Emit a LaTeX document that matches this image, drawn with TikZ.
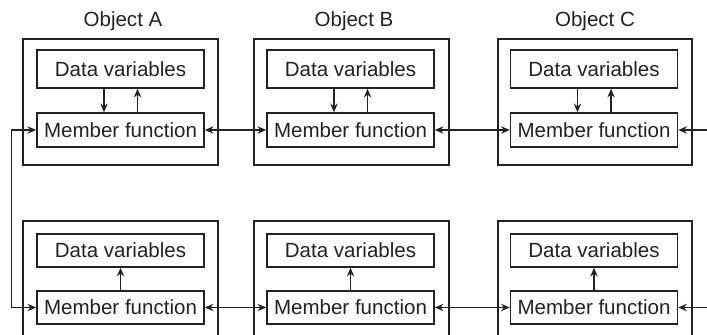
\documentclass[tikz,border=0pt]{standalone}
\usepackage{fontspec}
\setmainfont{Liberation Sans}
\usetikzlibrary{arrows.meta,fit}
\definecolor{ink}{HTML}{222222}
\tikzset{
  box/.style={draw=ink, line width=1.1pt, inner sep=0pt, text=ink, minimum width=125.25pt,
    font=\fontsize{15.4}{18}\selectfont},
  tallbox/.style={box, minimum height=28.5pt},
  midbox/.style={box, minimum height=25.5pt},
  lowbox/.style={box, minimum height=24.75pt},
  frame/.style={draw=ink, line width=1.2pt, inner sep=0pt},
  title/.style={text=ink, inner sep=0pt, font=\fontsize{15.4}{18}\selectfont},
  link/.style={draw=ink, line width=1.1pt, -{Stealth[length=6.5pt,width=5.5pt]}},
  dlink/.style={draw=ink, line width=1.1pt, {Stealth[length=6.5pt,width=5.5pt]}-{Stealth[length=6.5pt,width=5.5pt]}}
}
\begin{document}
\begin{tikzpicture}[x=0.75pt, y=-0.75pt]
\useasboundingbox (0,0) rectangle (707,335);
\clip (0,0) rectangle (707,335);
\fill[white] (0,0) rectangle (707,335);

% object titles
\node[title] (ta) at (123,21) {Object A};
\node[title] (tb) at (354,21) {Object B};
\node[title] (tc) at (595,21) {Object C};

% upper row of objects
\node[frame, fit={(23,39) (218,165)}] (oa1) {};
\node[frame, fit={(254,39) (449,165)}] (ob1) {};
\node[frame, fit={(498,39) (692,165)}] (oc1) {};
\node[tallbox] (da1) at (120.5,69) {Data variables};
\node[tallbox] (db1) at (350.5,69) {Data variables};
\node[tallbox] (dc1) at (594,69) {Data variables};
\node[midbox] (ma1) at (120.5,130) {Member function};
\node[midbox] (mb1) at (350.5,130) {Member function};
\node[midbox] (mc1) at (594,130) {Member function};

% lower row of objects (cut off at the bottom)
\node[frame, fit={(23,221) (218,350)}] (oa2) {};
\node[frame, fit={(254,221) (449,350)}] (ob2) {};
\node[frame, fit={(498,221) (692,350)}] (oc2) {};
\node[lowbox] (da2) at (120.5,250.5) {Data variables};
\node[lowbox] (db2) at (350.5,250.5) {Data variables};
\node[lowbox] (dc2) at (594,250.5) {Data variables};
\node[lowbox] (ma2) at (120.5,307.5) {Member function};
\node[lowbox] (mb2) at (350.5,307.5) {Member function};
\node[lowbox] (mc2) at (594,307.5) {Member function};

% data <-> member links inside upper objects
\foreach \d/\m in {da1/ma1, db1/mb1, dc1/mc1}{
  \draw[link] ([xshift=-12.4pt]\d.south) -- ([xshift=-12.4pt]\m.north);
  \draw[link] ([xshift=12.8pt]\m.north) -- ([xshift=12.8pt]\d.south);
}
% member -> data links inside lower objects
\foreach \d/\m in {da2/ma2, db2/mb2, dc2/mc2}{
  \draw[link] (\m.north) -- (\d.south);
}

% messages between objects
\draw[dlink] (ma1.east) -- (mb1.west);
\draw[dlink] (mb1.east) -- (mc1.west);
\draw[dlink] (ma2.east) -- (mb2.west);
\draw[dlink] (mb2.east) -- (mc2.west);
\draw[dlink] (ma1.west) -- ++(-25,0) |- (ma2.west);

% incoming messages from the right
\coordinate (in1) at (712,130);
\coordinate (in2) at (712,307.5);
\draw[link] (in1) -- (mc1.east);
\draw[link] (in2) -- (mc2.east);
\end{tikzpicture}
\end{document}
